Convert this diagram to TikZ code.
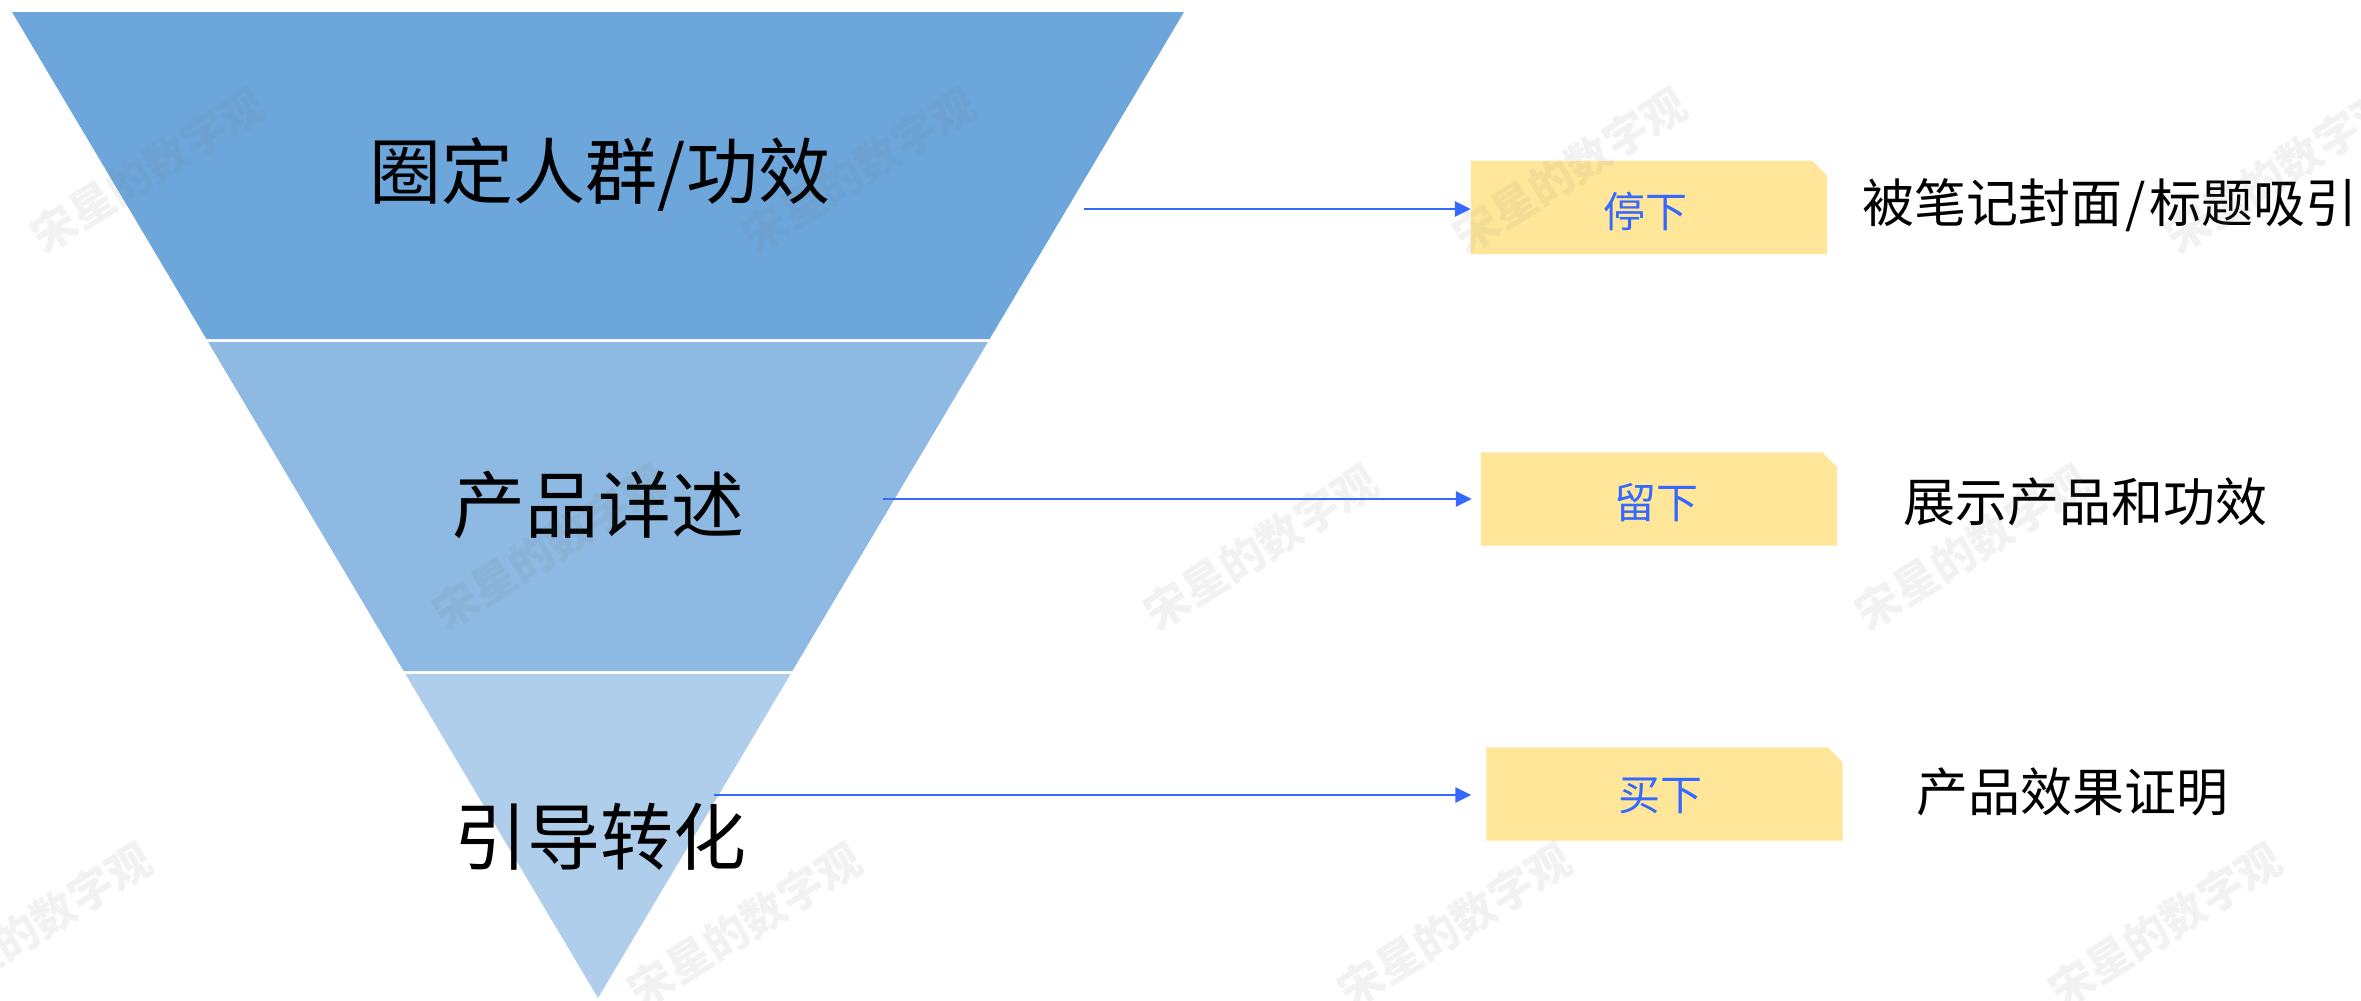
\documentclass[tikz,border=0pt]{standalone}
\usepackage{fontspec}
\setmainfont{Noto Sans CJK SC}
\usetikzlibrary{arrows.meta,backgrounds}
\definecolor{fA}{RGB}{108,166,218}
\definecolor{fB}{RGB}{141,185,226}
\definecolor{fC}{RGB}{175,206,235}
\definecolor{boxY}{RGB}{255,230,153}
\definecolor{arrB}{RGB}{52,104,255}
\definecolor{wmC}{RGB}{120,120,120}
\tikzset{
  lbl/.style={inner sep=0pt, text=black, font=\fontsize{73}{80}\selectfont},
  tag/.style={minimum width=356pt, minimum height=93pt, inner sep=0pt},
  tagtext/.style={inner sep=0pt, text=arrB, font=\fontsize{42}{50}\selectfont},
  desc/.style={inner sep=0pt, anchor=west, text=black, font=\fontsize{52}{60}\selectfont},
  arr/.style={draw=arrB, line width=2.5pt, -{Triangle[length=16pt,width=15pt]}},
  wmark/.style={inner sep=0pt, rotate=32, text=wmC, opacity=0.09, font=\bfseries\fontsize{44}{50}\selectfont},
  cutfill/.style={fill=boxY}
}
\begin{document}
\begin{tikzpicture}[x=1pt,y=-1pt]
\useasboundingbox (0,0) rectangle (2361,1001);
\begin{scope}[on background layer]
\fill[white] (0,0) rectangle (2361,1001);
\end{scope}
% funnel
\fill[fA] (12,12) -- (1184,12) -- (989.6,339) -- (206.4,339) -- cycle;
\fill[fB] (208.1,342) -- (987.9,342) -- (792.3,671) -- (403.7,671) -- cycle;
\fill[fC] (405.4,674) -- (790.6,674) -- (598,998) -- cycle;
% funnel labels
\node[lbl, font=\fontsize{72}{80}\selectfont] (l1) at (600,174) {圈定人群/功效};
\node[lbl] (l2) at (598,505) {产品详述};
\node[lbl] (l3) at (600,837) {引导转化};
% tag boxes
\node[tag] (b1) at (1649,207.5) {};
\node[tag] (b2) at (1659,499) {};
\node[tag] (b3) at (1664.5,794) {};
\begin{scope}[on background layer]
\foreach \b in {b1,b2,b3}
  \fill[cutfill] (\b.south west) -- (\b.north west) -- ([xshift=-15pt]\b.north east) -- ([yshift=-15pt]\b.north east) -- (\b.south east) -- cycle;
\end{scope}
\node[tagtext] (t1) at ([xshift=-4pt,yshift=-4pt]b1.center) {停下};
\node[tagtext] (t2) at ([xshift=-3pt,yshift=-4pt]b2.center) {留下};
\node[tagtext] (t3) at ([xshift=-4pt,yshift=-2pt]b3.center) {买下};
% arrows
\coordinate (s1) at (1084,209);
\coordinate (s2) at (883,499);
\coordinate (s3) at (714,795);
\draw[arr] (s1) -- (s1 -| b1.west);
\draw[arr, shorten >=9pt] (s2) -- (s2 -| b2.west);
\draw[arr, shorten >=15pt] (s3) -- (s3 -| b3.west);
% descriptions
\node[desc] (d1) at (1862,205) {被笔记封面\kern3pt/\kern4pt标题吸引};
\node[desc] (d2) at (1903,502) {展示产品和功效};
\node[desc] (d3) at (1916,792) {产品效果证明};
% watermarks
\foreach \p [count=\i] in {(148,170),(859,170),(1570,170),(2281,170),(550,547),(1261,547),(1972,547),(35,925),(745,925),(1455,925),(2165,925)}
  \node[wmark] (w\i) at \p {宋星的数字观};
\end{tikzpicture}
\end{document}
